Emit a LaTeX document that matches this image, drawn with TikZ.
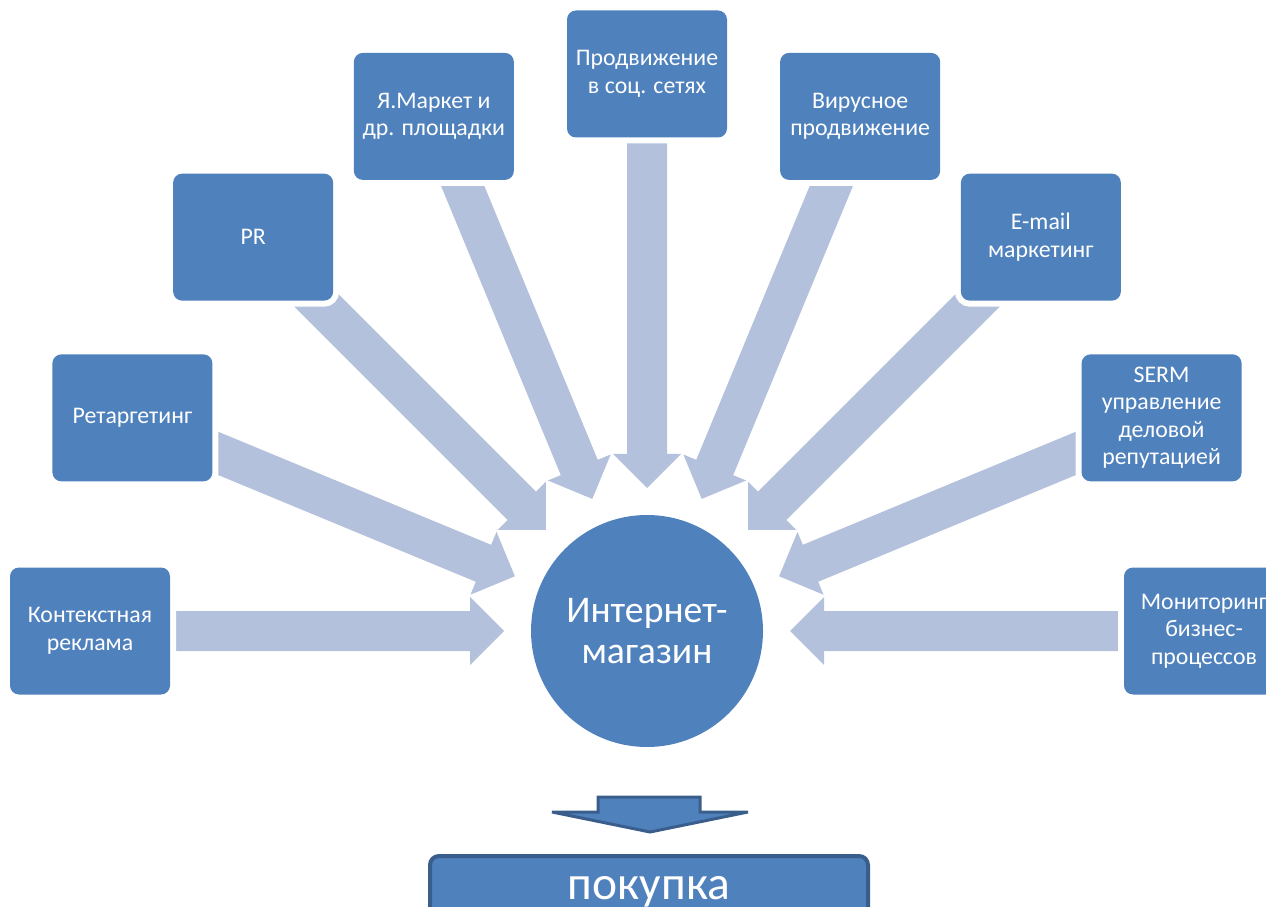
\documentclass[tikz,border=0pt]{standalone}
\usepackage{fontspec}
\setmainfont{Carlito}
\usetikzlibrary{calc,backgrounds}
\definecolor{boxc}{HTML}{4F81BD}
\definecolor{arrc}{HTML}{B3C1DC}
\definecolor{edgec}{HTML}{3A5E8C}
\begin{document}
\begin{tikzpicture}[x=1pt,y=1pt,
  box/.style={fill=boxc, rounded corners=9pt, minimum width=160pt, minimum height=127pt,
    inner sep=0pt, text=white, align=center, font=\fontsize{23.8}{27.5}\selectfont,
    preaction={draw=white, line width=12pt}},
  hub/.style={circle, fill=boxc, minimum size=232pt, inner sep=0pt, text=white,
    align=center, font=\fontsize{37.7}{41}\selectfont},
  result/.style={draw=edgec, line width=4pt, fill=boxc, rounded corners=9pt,
    minimum width=438pt, minimum height=64pt, inner sep=0pt, text=white,
    font=\fontsize{47.5}{50}\selectfont, text height=22pt, text depth=0pt},
  radarrow/.style={fill=arrc},
  downarrow/.style={fill=boxc, draw=edgec, line width=3pt, line join=miter, miter limit=1.5}]
\useasboundingbox (0,0) rectangle (1266,906);
\clip (0,0) rectangle (1266,906);
\coordinate (O) at (647,275);
\node[hub] (c) at (O) {Интернет-\\магазин};
\node[box] (b1) at ($(O)+(180:557)$) {Контекстная\\реклама};
\node[box] (b2) at ($(O)+(157.5:557)$) {Ретаргетинг};
\node[box] (b3) at ($(O)+(135:557)$) {PR};
\node[box] (b4) at ($(O)+(112.5:557)$) {Я.Маркет и\\др. площадки};
\node[box] (b5) at ($(O)+(90:557)$) {Продвижение\\в соц. сетях};
\node[box] (b6) at ($(O)+(67.5:557)$) {Вирусное\\продвижение};
\node[box] (b7) at ($(O)+(45:557)$) {E-mail\\маркетинг};
\node[box] (b8) at ($(O)+(22.5:557)$) {SERM\\управление\\деловой\\репутацией};
\node[box] (b9) at ($(O)+(0:557)$) {Мониторинг\\бизнес-\\процессов};
\begin{pgfonlayer}{background}
\foreach \b in {b1,b2,b3,b4,b5,b6,b7,b8,b9}{
  \coordinate (h) at ($(c.center)!177pt!(\b.center)$);
  \coordinate (s) at ($(c.center)!520pt!(\b.center)$);
  \fill[radarrow] ($(c.center)!143pt!(\b.center)$)
    -- ($(h)!34pt!90:(\b.center)$) -- ($(h)!20pt!90:(\b.center)$)
    -- ($(s)!20pt!90:(\b.center)$) -- ($(s)!20pt!-90:(\b.center)$)
    -- ($(h)!20pt!-90:(\b.center)$) -- ($(h)!34pt!-90:(\b.center)$) -- cycle;
}
\end{pgfonlayer}
\node[result] (buy) at (649,18) {покупка};
\coordinate (ar) at (650,94);
\draw[downarrow] ($(ar)+(-52,15)$) -- ($(ar)+(50,15)$) -- ($(ar)+(50,0)$)
  -- ($(ar)+(98,0)$) -- ($(ar)+(0,-20)$) -- ($(ar)+(-98,0)$)
  -- ($(ar)+(-52,0)$) -- cycle;
\end{tikzpicture}
\end{document}
